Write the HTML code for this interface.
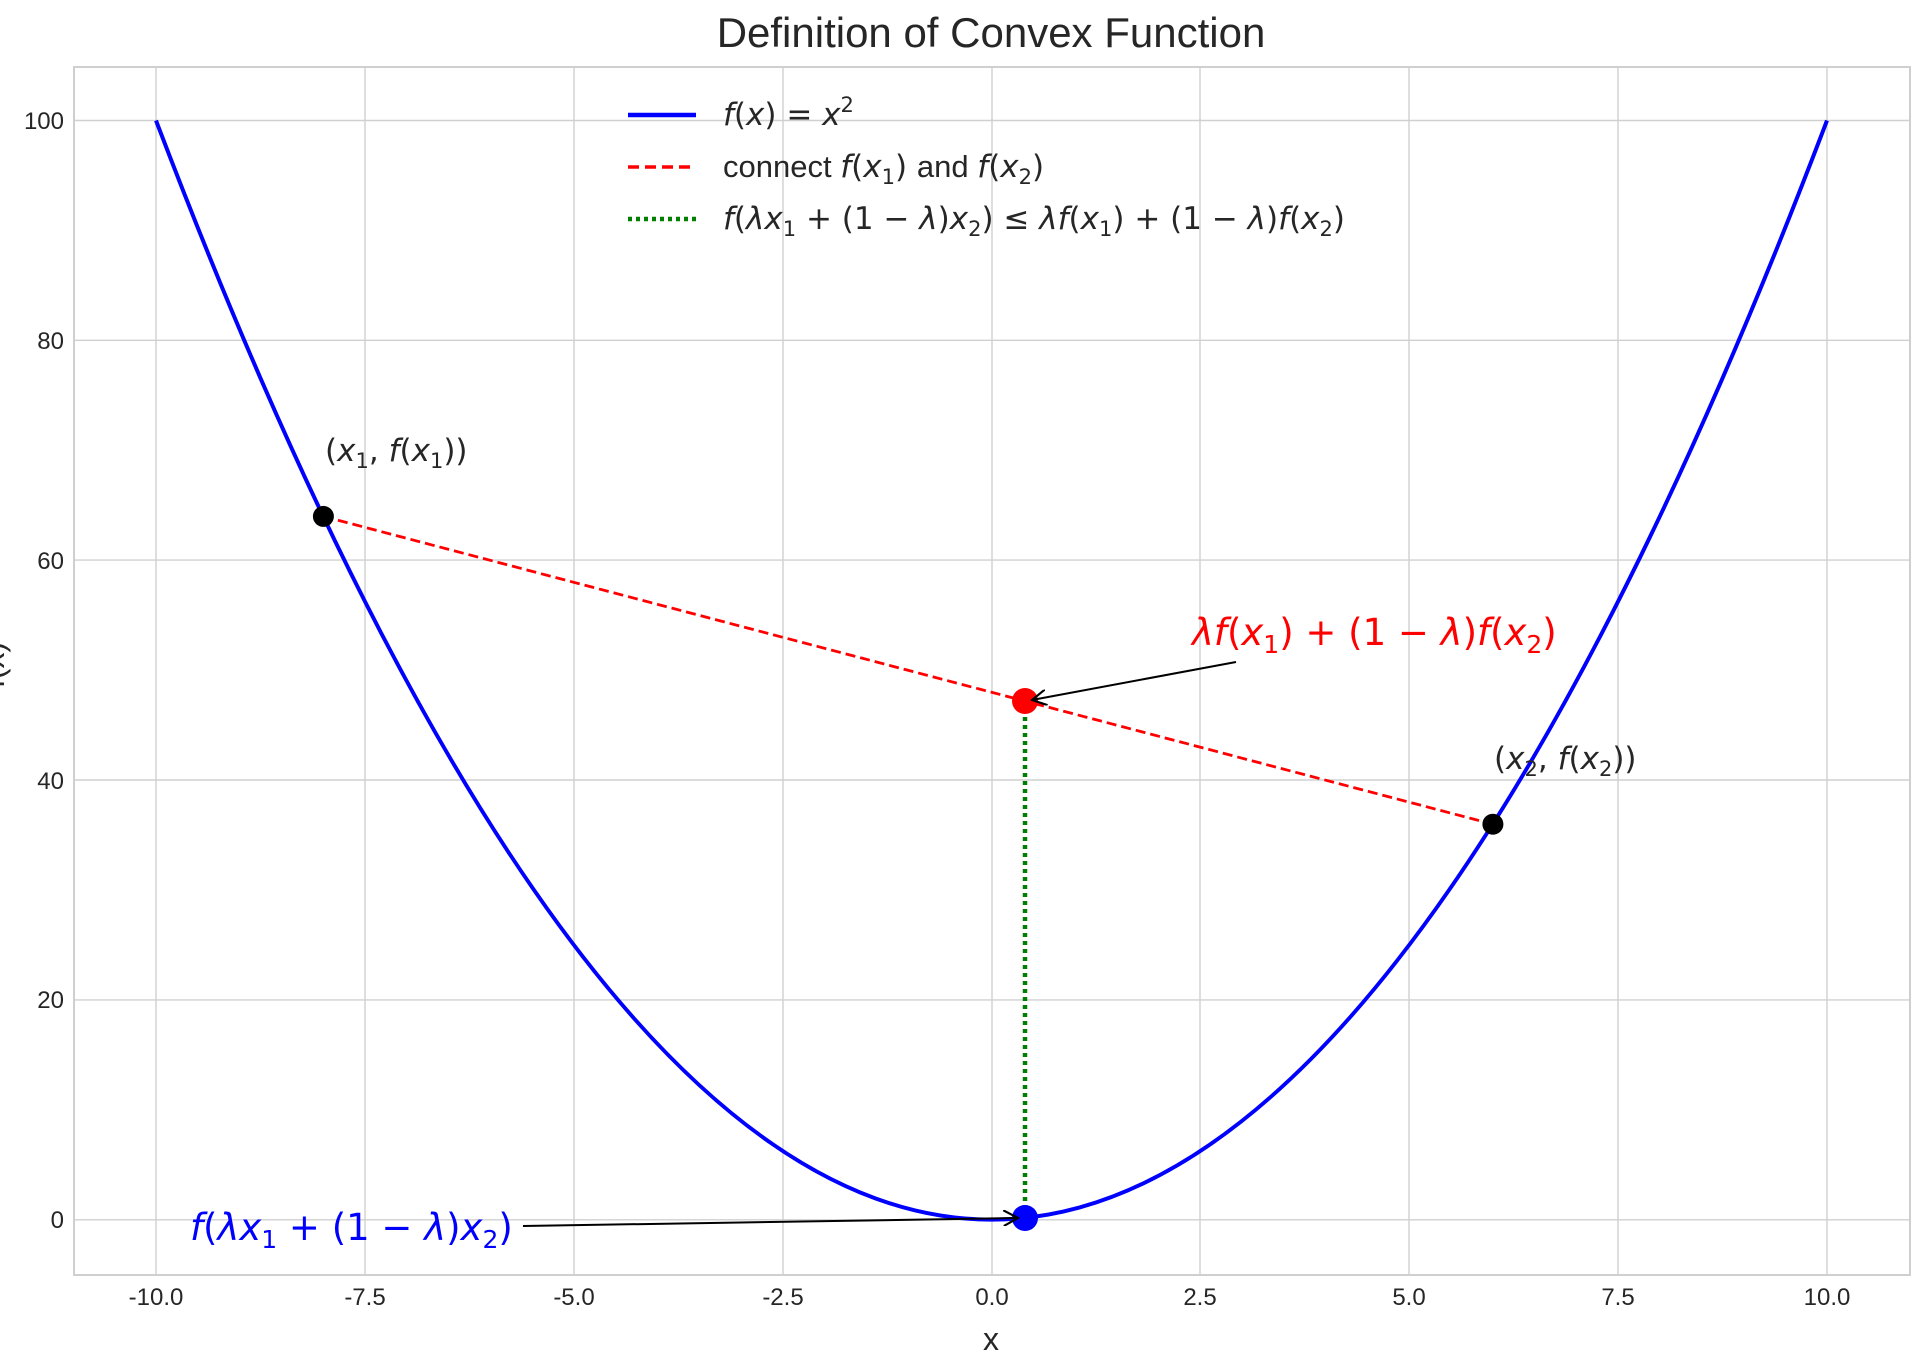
<!DOCTYPE html>
<html><head><meta charset="utf-8"><style>
html,body{margin:0;padding:0;background:#fff;}
svg{display:block;font-family:"Liberation Sans","DejaVu Sans",sans-serif;}
.m{font-family:"DejaVu Sans","Liberation Sans",sans-serif;}
</style></head><body>
<svg width="1928" height="1372" viewBox="0 0 1928 1372" xmlns="http://www.w3.org/2000/svg">
<defs><marker id="ah" viewBox="0 0 12 12" refX="11" refY="6" markerWidth="16" markerHeight="16" markerUnits="userSpaceOnUse" orient="auto"><path d="M0,0 L11,6 L0,12" fill="none" stroke="#000" stroke-width="1.6"/></marker></defs>
<text x="991" y="47" font-size="42" text-anchor="middle" fill="#262626">Definition of Convex Function</text>
<g stroke="#d0d0d0" stroke-width="1.4">
<line x1="156" y1="67" x2="156" y2="1275"/><line x1="365" y1="67" x2="365" y2="1275"/><line x1="574" y1="67" x2="574" y2="1275"/><line x1="783" y1="67" x2="783" y2="1275"/><line x1="992" y1="67" x2="992" y2="1275"/><line x1="1200" y1="67" x2="1200" y2="1275"/><line x1="1409" y1="67" x2="1409" y2="1275"/><line x1="1618" y1="67" x2="1618" y2="1275"/><line x1="1827" y1="67" x2="1827" y2="1275"/>
<line x1="74" y1="120.5" x2="1910" y2="120.5"/><line x1="74" y1="340.3" x2="1910" y2="340.3"/><line x1="74" y1="560.1" x2="1910" y2="560.1"/><line x1="74" y1="780" x2="1910" y2="780"/><line x1="74" y1="999.9" x2="1910" y2="999.9"/><line x1="74" y1="1219.8" x2="1910" y2="1219.8"/>
</g>
<rect x="74" y="67" width="1836" height="1208" fill="none" stroke="#cfcfcf" stroke-width="2"/>
<g font-size="24" fill="#262626" text-anchor="middle">
<text x="156" y="1305">-10.0</text><text x="365" y="1305">-7.5</text><text x="574" y="1305">-5.0</text><text x="783" y="1305">-2.5</text><text x="992" y="1305">0.0</text><text x="1200" y="1305">2.5</text><text x="1409" y="1305">5.0</text><text x="1618" y="1305">7.5</text><text x="1827" y="1305">10.0</text>
</g>
<g font-size="24" fill="#262626" text-anchor="end">
<text x="64" y="129">100</text><text x="64" y="349">80</text><text x="64" y="569">60</text><text x="64" y="789">40</text><text x="64" y="1008">20</text><text x="64" y="1228">0</text>
</g>
<text x="991" y="1350" font-size="32" text-anchor="middle" fill="#262626">x</text>
<text x="4" y="665" font-size="32" fill="#262626" text-anchor="middle" transform="rotate(-90 4 665)">f(x)</text>
<path d="M156,120.5 Q991.6,2318.8 1827,120.5" fill="none" stroke="#0000ff" stroke-width="4"/>
<line x1="323.4" y1="516.4" x2="1492.9" y2="824.2" stroke="#ff0000" stroke-width="2.8" stroke-dasharray="10,5"/>
<line x1="1025" y1="701" x2="1025" y2="1218" stroke="#008000" stroke-width="4.5" stroke-dasharray="4,4"/>
<circle cx="323.4" cy="516.4" r="10.5" fill="#000"/>
<circle cx="1492.9" cy="824.2" r="10.5" fill="#000"/>
<circle cx="1025" cy="701" r="13" fill="#ff0000"/>
<circle cx="1025" cy="1218" r="13" fill="#0000ff"/>
<line x1="1236" y1="662" x2="1032" y2="700" stroke="#000" stroke-width="2" marker-end="url(#ah)"/>
<line x1="523" y1="1226" x2="1018" y2="1218" stroke="#000" stroke-width="2" marker-end="url(#ah)"/>
<text x="325" y="461" font-size="31" fill="#262626" class="m">(<tspan font-style="italic">x</tspan><tspan font-size="21" dy="7">1</tspan><tspan dy="-7">, </tspan><tspan font-style="italic">f</tspan>(<tspan font-style="italic">x</tspan><tspan font-size="21" dy="7">1</tspan><tspan dy="-7">))</tspan></text>
<text x="1494" y="769" font-size="31" fill="#262626" class="m">(<tspan font-style="italic">x</tspan><tspan font-size="21" dy="7">2</tspan><tspan dy="-7">, </tspan><tspan font-style="italic">f</tspan>(<tspan font-style="italic">x</tspan><tspan font-size="21" dy="7">2</tspan><tspan dy="-7">))</tspan></text>
<text x="1192" y="645" font-size="37" fill="#ff0000" class="m"><tspan font-style="italic">λf</tspan>(<tspan font-style="italic">x</tspan><tspan font-size="25" dy="8">1</tspan><tspan dy="-8">) + (1 − </tspan><tspan font-style="italic">λ</tspan>)<tspan font-style="italic">f</tspan>(<tspan font-style="italic">x</tspan><tspan font-size="25" dy="8">2</tspan><tspan dy="-8">)</tspan></text>
<text x="190" y="1240" font-size="37" fill="#0000ff" class="m"><tspan font-style="italic">f</tspan>(<tspan font-style="italic">λx</tspan><tspan font-size="25" dy="8">1</tspan><tspan dy="-8"> + (1 − </tspan><tspan font-style="italic">λ</tspan>)<tspan font-style="italic">x</tspan><tspan font-size="25" dy="8">2</tspan><tspan dy="-8">)</tspan></text>
<line x1="628" y1="115" x2="696" y2="115" stroke="#0000ff" stroke-width="4.5"/>
<line x1="628" y1="167" x2="696" y2="167" stroke="#ff0000" stroke-width="3.5" stroke-dasharray="11,6"/>
<line x1="628" y1="219" x2="696" y2="219" stroke="#008000" stroke-width="4.5" stroke-dasharray="4,4"/>
<g font-size="31" fill="#262626" class="m">
<text x="723" y="125"><tspan font-style="italic">f</tspan>(<tspan font-style="italic">x</tspan>) = <tspan font-style="italic">x</tspan><tspan font-size="21" dy="-13">2</tspan></text>
<text x="723" y="177"><tspan font-family="Liberation Sans">connect </tspan><tspan font-style="italic">f</tspan>(<tspan font-style="italic">x</tspan><tspan font-size="21" dy="7">1</tspan><tspan dy="-7">) </tspan><tspan font-family="Liberation Sans">and </tspan><tspan font-style="italic">f</tspan>(<tspan font-style="italic">x</tspan><tspan font-size="21" dy="7">2</tspan><tspan dy="-7">)</tspan></text>
<text x="723" y="229"><tspan font-style="italic">f</tspan>(<tspan font-style="italic">λx</tspan><tspan font-size="21" dy="7">1</tspan><tspan dy="-7"> + (1 − </tspan><tspan font-style="italic">λ</tspan>)<tspan font-style="italic">x</tspan><tspan font-size="21" dy="7">2</tspan><tspan dy="-7">) ≤ </tspan><tspan font-style="italic">λf</tspan>(<tspan font-style="italic">x</tspan><tspan font-size="21" dy="7">1</tspan><tspan dy="-7">) + (1 − </tspan><tspan font-style="italic">λ</tspan>)<tspan font-style="italic">f</tspan>(<tspan font-style="italic">x</tspan><tspan font-size="21" dy="7">2</tspan><tspan dy="-7">)</tspan></text>
</g>
</svg>
</body></html>
